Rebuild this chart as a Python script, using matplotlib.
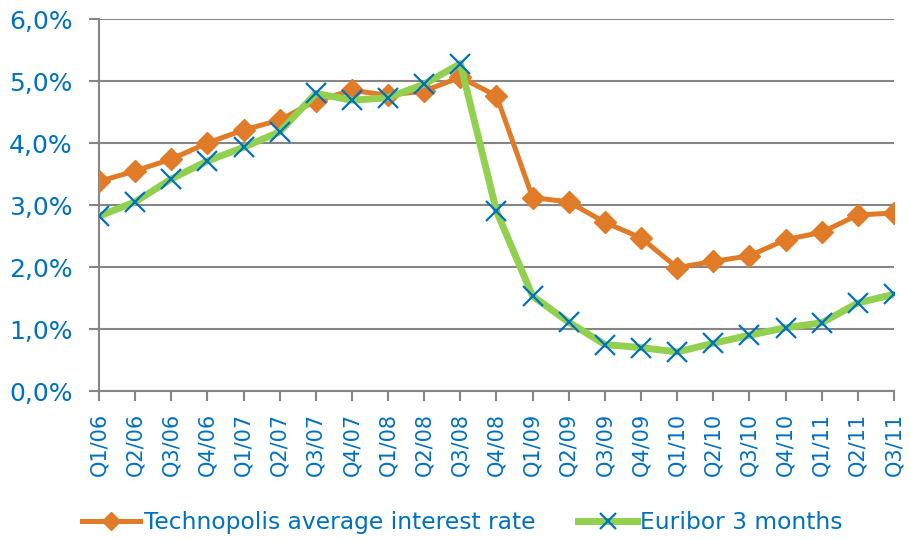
import matplotlib
matplotlib.use("Agg")
import matplotlib.pyplot as plt
from matplotlib.ticker import FuncFormatter

quarters = ["Q1/06", "Q2/06", "Q3/06", "Q4/06", "Q1/07", "Q2/07", "Q3/07", "Q4/07",
            "Q1/08", "Q2/08", "Q3/08", "Q4/08", "Q1/09", "Q2/09", "Q3/09", "Q4/09",
            "Q1/10", "Q2/10", "Q3/10", "Q4/10", "Q1/11", "Q2/11", "Q3/11"]

technopolis = [3.38, 3.55, 3.74, 4.00, 4.21, 4.37, 4.68, 4.85, 4.77, 4.84, 5.06, 4.76,
               3.12, 3.05, 2.72, 2.47, 1.99, 2.09, 2.18, 2.44, 2.56, 2.84, 2.87]
euribor = [2.82, 3.05, 3.42, 3.71, 3.93, 4.18, 4.80, 4.69, 4.73, 4.95, 5.28, 2.90,
           1.53, 1.11, 0.75, 0.70, 0.63, 0.77, 0.90, 1.02, 1.10, 1.42, 1.56]

blue = "#0070C0"
orange = "#E07B28"
green = "#92D050"
grey = "#868686"

fig = plt.figure(figsize=(9.1, 5.4), dpi=100)
ax = fig.add_axes([0.1088, 0.2759, 0.8736, 0.6889])

x = list(range(len(quarters)))
ax.plot(x, technopolis, color=orange, lw=3.6, marker="D", ms=11, mec=orange,
        label="Technopolis average interest rate", zorder=3)
ax.plot(x, euribor, color=green, lw=5, marker="x", ms=14, mew=1.6, mec=blue,
        label="Euribor 3 months", zorder=4)

ax.set_xlim(0, len(quarters) - 1)
ax.set_ylim(0, 6)
ax.set_yticks(range(7))
ax.yaxis.set_major_formatter(FuncFormatter(lambda v, p: f"{v:.1f}%".replace(".", ",")))
ax.set_xticks(x)
ax.set_xticklabels(quarters, rotation=90)

ax.grid(axis="y", color=grey, lw=1.5)
ax.set_axisbelow(True)
for s in ["top", "right"]:
    ax.spines[s].set_visible(False)
for s in ["left", "bottom"]:
    ax.spines[s].set_color(grey)
    ax.spines[s].set_linewidth(1.5)
ax.tick_params(axis="both", colors=grey, width=1.5, length=7, labelcolor=blue)
ax.tick_params(axis="y", labelsize=18, pad=12)
ax.tick_params(axis="x", labelsize=15, pad=9)
for lbl in ax.get_xticklabels() + ax.get_yticklabels():
    lbl.set_clip_on(False)

leg = fig.legend(loc="center", bbox_to_anchor=(0.508, 0.033), ncol=2, frameon=False,
                 fontsize=16.8, handlelength=2.5, columnspacing=1.85, handletextpad=0.15,
                 markerscale=0.8)
for t in leg.get_texts():
    t.set_color(blue)

fig.savefig("out.png", dpi=100)
